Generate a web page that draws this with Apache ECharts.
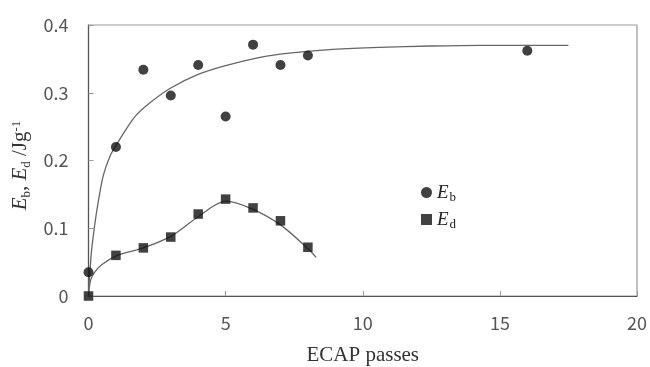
<!DOCTYPE html>
<html>
<head>
<meta charset="utf-8">
<script src="https://cdn.jsdelivr.net/npm/echarts@6/dist/echarts.min.js"></script>
<style>
html,body{margin:0;padding:0;background:#fff;}
#chart{width:650px;height:367px;}
</style>
</head>
<body>
<div id="chart"></div>
<script>
// Measured data
const ebPasses = [0, 1, 2, 3, 4, 5, 6, 7, 8, 16];
const ebValues = [0.035, 0.22, 0.334, 0.296, 0.341, 0.265, 0.371, 0.341, 0.355, 0.362];
const edPasses = [0, 1, 2, 3, 4, 5, 6, 7, 8];
const edValues = [0, 0.06, 0.071, 0.087, 0.121, 0.143, 0.13, 0.111, 0.072];

// Fitted curves
const ebFitX = [0, 0.02, 0.05, 0.11, 0.23, 0.36, 0.54, 0.78, 1, 1.7, 2.3, 3, 4, 5, 6.5, 7.7, 8.9, 10.6, 12.5, 14.3, 16, 17.5];
const ebFitY = [0, 0.018, 0.034, 0.066, 0.106, 0.140, 0.178, 0.206, 0.222, 0.265, 0.287, 0.307, 0.327, 0.340, 0.354, 0.360, 0.364, 0.367, 0.369, 0.37, 0.37, 0.37];
const edFitX = [0, 0.03, 0.09, 0.24, 0.48, 1, 2, 3, 4, 5, 6, 7, 8, 8.3];
const edFitY = [0, 0.013, 0.025, 0.036, 0.046, 0.059, 0.071, 0.088, 0.117, 0.140, 0.128, 0.105, 0.07, 0.057];

const xTicks = {min: 0, max: 20, interval: 5};
const yTicks = {min: 0, max: 0.4, interval: 0.1};

const zip = (a, b) => a.map((v, i) => [v, b[i]]);

const chart = echarts.init(document.getElementById('chart'), null, {renderer: 'canvas'});
const serif = 'Liberation Serif';
const sans = 'Noto Sans CJK JP';

chart.setOption({
  animation: false,
  backgroundColor: '#fff',
  grid: {left: 88.5, right: 13, top: 25, bottom: 71, show: true, borderColor: '#9a9a9a', borderWidth: 1.2,
         containLabel: false, outerBoundsMode: 'none'},
  legend: {
    orient: 'vertical', left: 416, top: 176, itemGap: 4, itemWidth: 11, itemHeight: 11,
    data: [{name: 'Eb', icon: 'circle'}, {name: 'Ed', icon: 'rect'}],
    formatter: n => n === 'Eb' ? '{e|E}{s|b}' : '{e|E}{s|d}',
    textStyle: {
      rich: {
        e: {fontFamily: serif, fontStyle: 'italic', fontSize: 19, color: '#222', lineHeight: 22, verticalAlign: 'middle'},
        s: {fontFamily: serif, fontSize: 13, color: '#222', padding: [10, 0, 0, 1], lineHeight: 22, verticalAlign: 'middle'}
      }
    }
  },
  xAxis: {
    type: 'value', min: xTicks.min, max: xTicks.max, interval: xTicks.interval,
    name: 'ECAP passes', nameLocation: 'middle', nameGap: 49,
    nameTextStyle: {fontFamily: serif, fontSize: 21, color: '#333'},
    axisLine: {lineStyle: {color: '#555', width: 1.2}},
    axisTick: {inside: true, length: 5, lineStyle: {color: '#999'}},
    axisLabel: {margin: 18, fontFamily: sans, fontSize: 18, color: '#555'},
    splitLine: {show: false}
  },
  yAxis: {
    type: 'value', min: yTicks.min, max: yTicks.max, interval: yTicks.interval,
    name: '{i|E}{s|b}{t|, }{i|E}{s|d}{t| /Jg}{p|-1}', nameLocation: 'middle', nameGap: 52,
    nameTextStyle: {
      padding: [0, 10, 0, 0],
      rich: {
        i: {fontFamily: serif, fontStyle: 'italic', fontSize: 21, color: '#333', lineHeight: 24},
        t: {fontFamily: serif, fontSize: 21, color: '#333', lineHeight: 24},
        s: {fontFamily: serif, fontSize: 13, color: '#333', padding: [11, 0, 0, 0], lineHeight: 24},
        p: {fontFamily: serif, fontSize: 13, color: '#333', padding: [0, 0, 9, 0], lineHeight: 24}
      }
    },
    axisLine: {lineStyle: {color: '#555', width: 1.2}},
    axisTick: {inside: true, length: 5, lineStyle: {color: '#999'}},
    axisLabel: {margin: 20, fontFamily: sans, fontSize: 18, color: '#555', formatter: v => v === 0 ? '0' : v.toFixed(1)},
    splitLine: {show: false}
  },
  series: [
    {type: 'line', name: 'EbFit', data: zip(ebFitX, ebFitY), showSymbol: false, smooth: 0.3,
     lineStyle: {color: '#666', width: 1.3}, z: 1, silent: true},
    {type: 'line', name: 'EdFit', data: zip(edFitX, edFitY), showSymbol: false, smooth: 0.3,
     lineStyle: {color: '#666', width: 1.3}, z: 1, silent: true},
    {type: 'scatter', name: 'Eb', data: zip(ebPasses, ebValues), symbol: 'circle', symbolSize: 10,
     itemStyle: {color: '#111'}, z: 3},
    {type: 'scatter', name: 'Ed', data: zip(edPasses, edValues), symbol: 'rect', symbolSize: 9.5,
     itemStyle: {color: '#111'}, z: 3}
  ]
});
</script>
</body>
</html>
